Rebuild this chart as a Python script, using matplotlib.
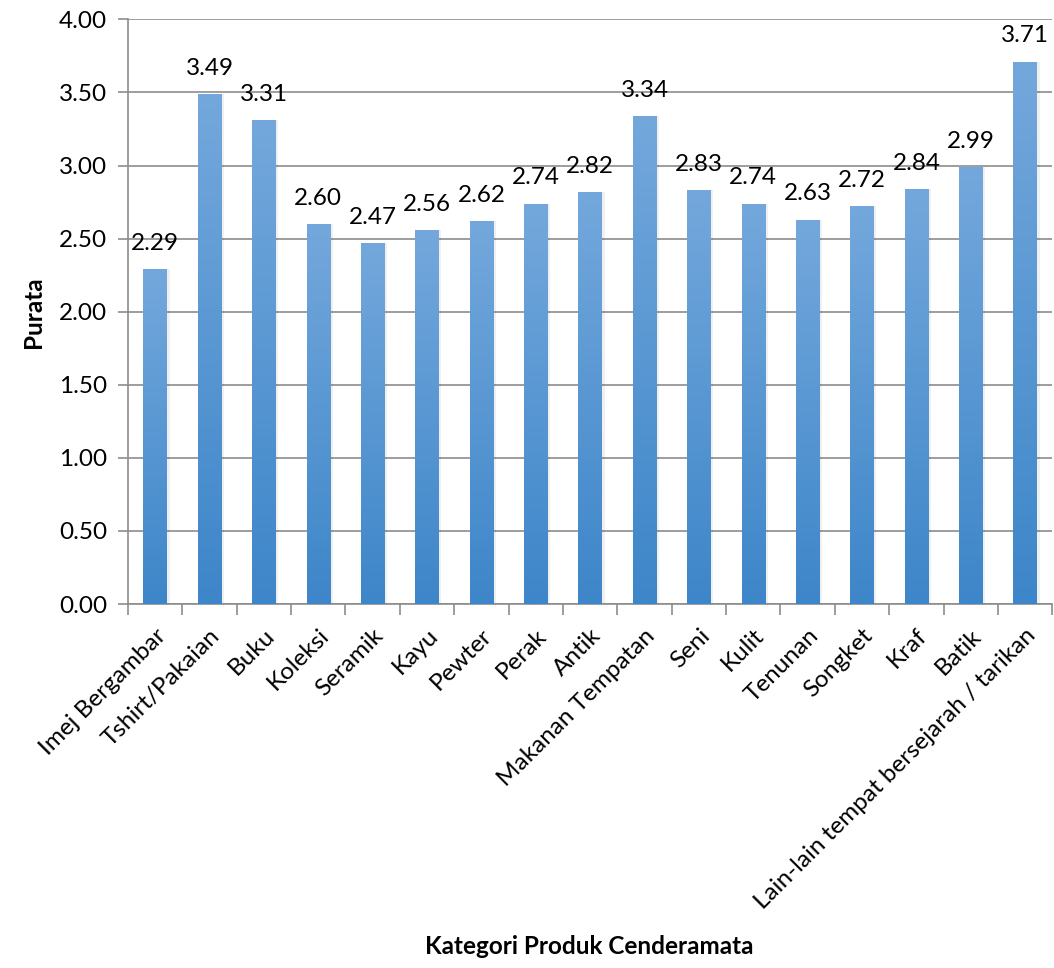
import matplotlib.pyplot as plt
import numpy as np
from matplotlib.colors import LinearSegmentedColormap

plt.rcParams['font.family'] = ['Lato', 'DejaVu Sans']

kategori = ['Imej Bergambar', 'Tshirt/Pakaian', 'Buku', 'Koleksi', 'Seramik',
            'Kayu', 'Pewter', 'Perak', 'Antik', 'Makanan Tempatan', 'Seni',
            'Kulit', 'Tenunan', 'Songket', 'Kraf', 'Batik',
            'Lain-lain tempat bersejarah / tarikan']
purata = [2.29, 3.49, 3.31, 2.60, 2.47, 2.56, 2.62, 2.74, 2.82, 3.34, 2.83,
          2.74, 2.63, 2.72, 2.84, 2.99, 3.71]
y_ticks = [0, 0.5, 1.0, 1.5, 2.0, 2.5, 3.0, 3.5, 4.0]

fig = plt.figure(figsize=(10.54, 9.68), dpi=100)
ax = fig.add_axes([0.1214, 0.376, 0.877, 0.604])

x = np.arange(len(kategori))
lebar = 0.43

# gradient utk setiap bar (atas cerah, bawah gelap)
grad = np.linspace(0, 1, 256).reshape(-1, 1)
cmap = LinearSegmentedColormap.from_list('biru', ['#3d86c9', '#74a8dc'])

bars = ax.bar(x, purata, width=lebar, color='none', zorder=3)
for b, v in zip(bars, purata):
    x0 = b.get_x()
    # bayang
    ax.bar(x0 + lebar / 2 + 0.03, v, width=lebar + 0.04, color='#000000',
           alpha=0.06, zorder=2)
    im = ax.imshow(grad, extent=[x0, x0 + lebar, 0, v], origin='lower',
                   cmap=cmap, aspect='auto', zorder=3)
    im.set_clip_path(b)
    ax.annotate('%.2f' % v, (x0 + lebar / 2, v), xytext=(0, 11),
                textcoords='offset points', ha='center', va='bottom',
                fontsize=17.5)

ax.set_xlim(-0.5, len(kategori) - 0.5)
ax.set_ylim(0, 4)
ax.set_yticks(y_ticks)
ax.set_yticklabels(['%.2f' % t for t in y_ticks], fontsize=17.5)
ax.yaxis.grid(True, color='#8c8c8c', linewidth=1.2, zorder=0)
ax.set_axisbelow(True)

ax.set_xticks(x)
ax.set_xticklabels(kategori, rotation=45, ha='right', rotation_mode='anchor',
                   fontsize=17.5)
ax.tick_params(axis='x', length=0, pad=15)
ax.set_xticks(np.arange(-0.5, len(kategori), 1), minor=True)
ax.tick_params(axis='x', which='minor', length=8, color='#8c8c8c', width=1.2)
ax.tick_params(axis='y', length=7, color='#8c8c8c', width=1.2, pad=8)

for s in ['top', 'right']:
    ax.spines[s].set_visible(False)
for s in ['left', 'bottom']:
    ax.spines[s].set_color('#8c8c8c')
    ax.spines[s].set_linewidth(1.2)

ax.set_ylabel('Purata', fontsize=17.5, fontweight='bold', labelpad=10)
fig.text(0.5595, 0.01, 'Kategori Produk Cenderamata', fontsize=17.5,
         fontweight='bold', ha='center', va='bottom')

fig.savefig('out.png', dpi=100)
